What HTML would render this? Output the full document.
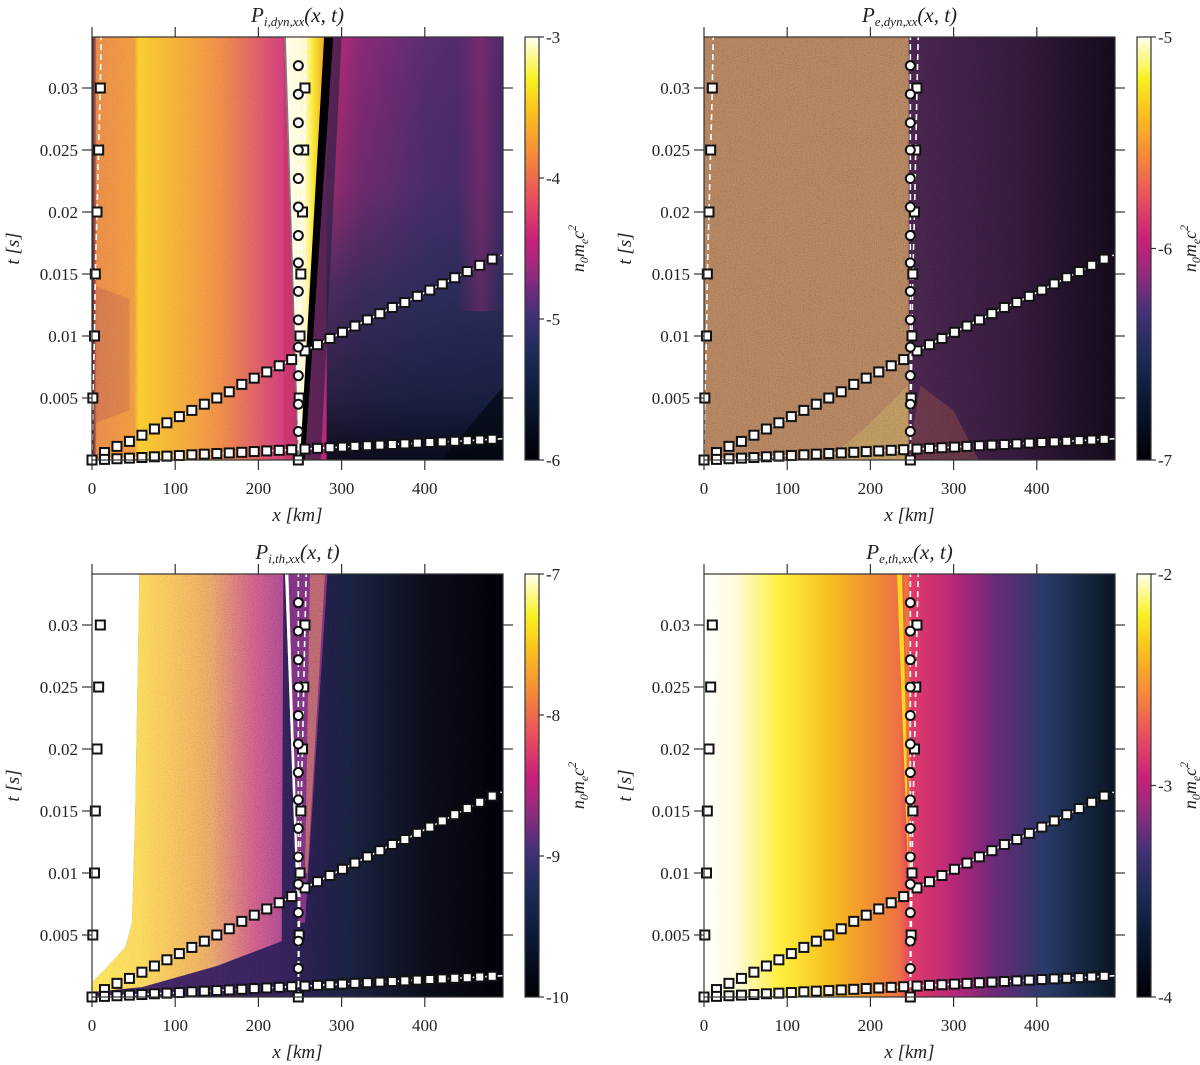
<!DOCTYPE html>
<html><head><meta charset="utf-8">
<style>
html,body{margin:0;padding:0;background:#fff;}
svg{display:block;font-family:"Liberation Serif",serif;}
</style></head>
<body>
<svg id="fig" width="1200" height="1065" viewBox="0 0 1200 1065" xmlns="http://www.w3.org/2000/svg">
<defs>
<filter id="noise" x="0" y="0" width="100%" height="100%">
<feTurbulence type="fractalNoise" baseFrequency="0.85" numOctaves="1" seed="3"/>
<feColorMatrix type="matrix" values="0.33 0.33 0.33 0 0  0.33 0.33 0.33 0 0  0.33 0.33 0.33 0 0  0 0 0 0 1"/>
</filter>
<linearGradient id="cmap" x1="0" y1="1" x2="0" y2="0">
<stop offset="0" stop-color="#000004"/><stop offset="0.15" stop-color="#0c1a38"/><stop offset="0.25" stop-color="#1c2c58"/>
<stop offset="0.35" stop-color="#46307a"/><stop offset="0.45" stop-color="#9a2a7e"/><stop offset="0.52" stop-color="#c8207a"/>
<stop offset="0.62" stop-color="#e8505e"/><stop offset="0.72" stop-color="#f58a38"/><stop offset="0.82" stop-color="#fbc020"/>
<stop offset="0.9" stop-color="#f8f020"/><stop offset="1" stop-color="#fffff0"/>
</linearGradient>
</defs>
</svg>
<script>
// ---- data (km, s) ----
const xTicks=[0,100,200,300,400];
const tTicks=[0.005,0.01,0.015,0.02,0.025,0.03];
const tTickLabels=['0.005','0.01','0.015','0.02','0.025','0.03'];
const lineAx1=[0,15,30,45,60,75,90,105,120,135,150,165,180,195,210,225,240];
const lineAt1=[0,0.0006,0.0011,0.0015,0.0020,0.0025,0.0030,0.0035,0.0040,0.0045,0.0050,0.0055,0.0061,0.0066,0.0071,0.0076,0.0081];
const lineAx2=[256,271,286,301,316,331,346,361,376,391,406,421,436,451,466,481];
const lineAt2=[0.0088,0.0093,0.0098,0.0103,0.0108,0.0113,0.0118,0.0123,0.0127,0.0132,0.0137,0.0142,0.0147,0.0152,0.0157,0.0162];
const lineBx=[0,15,30,45,60,75,90,105,120,135,150,165,180,195,210,225,240,256,271,286,301,316,331,346,361,376,391,406,421,436,451,466,481];
const lineBt=[0,0.00005,0.0001,0.00015,0.0002,0.00026,0.00031,0.00036,0.00042,0.00047,0.00052,0.00057,0.00062,0.00068,0.00073,0.00078,0.00083,0.00088,0.00094,0.00099,0.00104,0.00110,0.00115,0.00120,0.00125,0.00130,0.00136,0.00141,0.00146,0.00151,0.00156,0.00161,0.00167];
const leftSqX=[0,1,3,4,6,8,10];
const leftSqT=[0,0.005,0.01,0.015,0.02,0.025,0.03];
const rightSqX=[248,249,250,251,253,254.5,256];
const rightSqT=[0,0.005,0.01,0.015,0.02,0.025,0.03];
const circX=[248,248,248,248,248,248,248,248,248,248,248,248,248,248];
const circT=[0.0023,0.0045,0.0068,0.0091,0.0113,0.0136,0.0159,0.0181,0.0204,0.0227,0.0250,0.0272,0.0295,0.0318];
const titles=['P<tspan font-size="13" dy="4">i,dyn,xx</tspan><tspan dy="-4">(x, t)</tspan>','P<tspan font-size="13" dy="4">e,dyn,xx</tspan><tspan dy="-4">(x, t)</tspan>','P<tspan font-size="13" dy="4">i,th,xx</tspan><tspan dy="-4">(x, t)</tspan>','P<tspan font-size="13" dy="4">e,th,xx</tspan><tspan dy="-4">(x, t)</tspan>'];
const cbLabels=[['-3','-4','-5','-6'],['-5','-6','-7'],['-7','-8','-9','-10'],['-2','-3','-4']];

const NS='http://www.w3.org/2000/svg';
const svg=document.getElementById('fig');
const defs=svg.querySelector('defs');
function mk(tag,attrs,parent){const e=document.createElementNS(NS,tag);for(const k in attrs)e.setAttribute(k,attrs[k]);(parent||svg).appendChild(e);return e;}
let gid=0;
function grad(stops,vertical){const id='g'+(gid++);const g=mk('linearGradient',vertical?{id:id,x1:0,y1:0,x2:0,y2:1}:{id:id,x1:0,y1:0,x2:1,y2:0},defs);
 stops.forEach(s=>mk('stop',{offset:s[0],'stop-color':s[1],'stop-opacity':s[2]===undefined?1:s[2]},g));return 'url(#'+id+')';}

const panels=[{px:92,py:37},{px:704,py:37},{px:92,py:574},{px:704,py:574}];
const W=411,H=423,KX=0.832,KT=12400;

panels.forEach((P,i)=>{
 const X=km=>P.px+km*KX, Y=t=>P.py+H-t*KT;
 const TT=(H/KT);
 const g=mk('g',{});
 
 
 const cid='clip'+i; const cp=mk('clipPath',{id:cid},defs); mk('rect',{x:P.px,y:P.py,width:W,height:H},cp);
 const hm=mk('g',{'clip-path':'url(#'+cid+')'},g);
 
 
 const R=(x0,x1,t0,t1,fill,extra)=>{const a={x:X(x0),y:Y(t1),width:X(x1)-X(x0),height:Y(t0)-Y(t1),fill:fill};Object.assign(a,extra||{});return mk('rect',a,hm);};
 const poly=(pts,fill,extra)=>{const a={points:pts.map(p=>X(p[0])+','+Y(p[1])).join(' '),fill:fill};Object.assign(a,extra||{});return mk('polygon',a,hm);};
 const noise=(x0,x1,t0,t1,op)=>R(x0,x1,t0,t1,'#888',{filter:'url(#noise)',opacity:op,'style':'mix-blend-mode:overlay'});
 if(i===0){
  R(280,500,0,TT,grad([[0,'#c82a78'],[0.2,'#8a2a78'],[0.55,'#5a2e72'],[1,'#4a2a68']]));
  R(280,500,0,TT,grad([[0,'#0a1530',0],[0.35,'#1a2c52',0.25],[0.6,'#1a2c52',0.7],[0.85,'#0f1e3a',0.85],[1,'#050a18',0.95]],true));
  poly([[420,0],[495,0],[495,0.006]],'#02050c',{opacity:0.6});
  R(440,495,0.012,TT,grad([[0,'#c02878',0],[0.5,'#c02878',0.35],[1,'#a02878',0]]));
  R(0,282,0,TT,grad([[0,'#301a40'],[0.02,'#e67a40'],[0.18,'#ec8a38'],[0.2,'#f8c828'],[0.27,'#f6b52c'],[0.55,'#ec7a40'],[0.8,'#cc3a6a'],[1,'#b8287a']]));
  poly([[5,0.003],[45,0.004],[45,0.013],[5,0.014]],'#7a2a5a',{opacity:0.2});
  poly([[247,0.0005],[231,TT],[280,TT],[251,0.0005]],grad([[0,'#fffff0'],[0.5,'#fffad0'],[0.72,'#f8e830'],[1,'#f0a030']]));
  poly([[247,0],[231,TT],[233,TT],[248.5,0.0005]],'#302040',{opacity:0.6});
  poly([[250,0],[279,TT],[290,TT],[256,0]],'#000004');
  poly([[256,0],[290,TT],[300,TT],[275,0]],'#1a2040',{opacity:0.6});
  noise(5,230,0,TT,0.35);
 } else if(i===1){
  R(245,500,0,TT,grad([[0,'#3a1e3e'],[0.5,'#2a1530'],[1,'#0e0814']]));
  R(0,246,0,TT,'#96684c');
  poly([[150,0],[245,0],[245,0.006],[200,0.003]],'#b89050',{opacity:0.4});
  poly([[245,0],[330,0],[300,0.004],[260,0.006]],'#8a4a3a',{opacity:0.35});
  noise(0,500,0,TT,0.6);
 } else if(i===2){
  R(0,500,0,TT,grad([[0,'#3a2050'],[0.45,'#2a1a48'],[0.56,'#1a1838'],[0.62,'#141a32'],[0.8,'#080a14'],[1,'#000004']]));
  poly([[0,0.0012],[15,0.0022],[40,0.004],[48,0.006],[52,0.015],[57,TT],[0,TT]],'#ffffff');
  poly([[57,TT],[52,0.015],[48,0.006],[40,0.004],[15,0.0022],[0,0.0012],[0,0.0004],[60,0.0008],[150,0.0025],[228,0.0045],[230,TT]],grad([[0,'#fbd848'],[0.25,'#f8c848'],[0.55,'#e8904a'],[0.85,'#b84a6a'],[1,'#8a3a70']]));
  poly([[248,0.006],[236,TT],[283,TT],[256,0.006]],'#6a2a6a',{opacity:0.9});
  poly([[256,0.01],[262,TT],[280,TT],[259,0.01]],'#d87848',{opacity:0.5});
  poly([[246,0.008],[232,TT],[236,TT],[248,0.009]],'#fffff0');
  noise(0,500,0,TT,0.7);
 } else {
  R(0,500,0,TT,grad([[0,'#ffffff'],[0.08,'#fffad8'],[0.18,'#fff040'],[0.3,'#f8c020'],[0.4,'#f09030'],[0.47,'#ee7044'],[0.5,'#e03a6a'],[0.6,'#b82878'],[0.7,'#6a2a78'],[0.82,'#283a68'],[0.92,'#15253f'],[1,'#08121e']]));
  poly([[246,0.009],[232,TT],[238,TT],[248,0.009]],'#f8d820');
  poly([[246,0.009],[240,TT],[246,TT],[249,0.008]],'#f07040');
 }
 // marker lines
 const lines=mk('g',{},g);
 
 
 const path=(xs,ts,dash)=>mk('polyline',{points:xs.map((x,k)=>X(x)+','+Y(ts[k])).join(' '),fill:'none',stroke:'#fff','stroke-width':1.6,'stroke-dasharray':dash},lines);
 path(leftSqX.concat([11]),leftSqT.concat([TT]),'6,4');
 path([248,248],[0,TT],'6,4');
 path(rightSqX.concat([257.5]),rightSqT.concat([TT]),'6,4');
 path(lineAx1.concat([245]),lineAt1.concat([0.0082]),'6,3,1.5,3');
 path([248,256].concat(lineAx2.slice(1)).concat([495]),[0.0085,0.0088].concat(lineAt2.slice(1)).concat([0.0166]),'6,3,1.5,3');
 path(lineBx.concat([495]),lineBt.concat([0.00172]),'6,3,1.5,3');
 const sq=(x,t,nm)=>{const r=mk('rect',{x:X(x)-4.5,y:Y(t)-4.5,width:9,height:9,fill:'#fff',stroke:'#111','stroke-width':2},lines);};
 const ci=(x,t)=>{const c=mk('circle',{cx:X(x),cy:Y(t),r:4.5,fill:'#fff',stroke:'#111','stroke-width':2},lines);};
 lineAx1.forEach((x,k)=>sq(x,lineAt1[k],'square-line-a'));
 lineAx2.forEach((x,k)=>sq(x,lineAt2[k],'square-line-a'));
 lineBx.forEach((x,k)=>sq(x,lineBt[k],'square-line-b'));
 leftSqX.forEach((x,k)=>sq(x,leftSqT[k],'square-left'));
 rightSqX.forEach((x,k)=>sq(x,rightSqT[k],'square-center'));
 circX.forEach((x,k)=>ci(x,circT[k]));
 // frame & ticks
 mk('rect',{x:P.px,y:P.py,width:W,height:H,fill:'none',stroke:'#333','stroke-width':1.2},g);
 const ax=mk('g',{},g);
 
 
 xTicks.forEach(v=>{const x=X(v);
  mk('line',{x1:x,x2:x,y1:P.py+H,y2:P.py+H+10,stroke:'#333','stroke-width':1.2},ax);
  mk('line',{x1:x,x2:x,y1:P.py,y2:P.py-10,stroke:'#333','stroke-width':1.2},ax);
  const t=mk('text',{x:x,y:P.py+H+34,'text-anchor':'middle','font-size':17,fill:'#222'},ax);t.textContent=v;});
 const xl=mk('text',{x:P.px+W/2,y:P.py+H+61,'text-anchor':'middle','font-size':19,'font-style':'italic',fill:'#222'},ax);xl.textContent='x [km]';
 
 
 const ay=mk('g',{},g);
 
 
 tTicks.forEach((v,k)=>{const y=Y(v);
  mk('line',{x1:P.px-10,x2:P.px,y1:y,y2:y,stroke:'#333','stroke-width':1.2},ay);
  mk('line',{x1:P.px+W,x2:P.px+W+10,y1:y,y2:y,stroke:'#333','stroke-width':1.2},ay);
  const t=mk('text',{x:P.px-14,y:y+6,'text-anchor':'end','font-size':17,fill:'#222'},ay);t.textContent=tTickLabels[k];});
 const yl=mk('text',{x:0,y:0,'text-anchor':'middle','font-size':19,'font-style':'italic',fill:'#222',transform:'translate('+(P.px-73)+','+(P.py+H/2)+') rotate(-90)'},ay);yl.textContent='t [s]';
 
 
 const ti=mk('text',{x:P.px+W/2,y:P.py-15,'text-anchor':'middle','font-size':21,'font-style':'italic',fill:'#222'},g);ti.innerHTML=titles[i];
 
 
 // colorbar
 const cb=mk('g',{},g);
 
 
 const cx=P.px+W+22;
 mk('rect',{x:cx,y:P.py,width:14,height:H,fill:'url(#cmap)',stroke:'#333','stroke-width':1.2},cb);
 const labs=cbLabels[i];
 labs.forEach((l,k)=>{const y=P.py+H*k/(labs.length-1);
  mk('line',{x1:cx+14,x2:cx+19,y1:y,y2:y,stroke:'#333','stroke-width':1.2},cb);
  const t=mk('text',{x:cx+21,y:y+6,'font-size':17,fill:'#222'},cb);t.textContent=l;});
 const cl=mk('text',{x:0,y:0,'text-anchor':'middle','font-size':18,'font-style':'italic',fill:'#222',transform:'translate('+(cx+59)+','+(P.py+H/2)+') rotate(-90)'},cb);
 cl.innerHTML='n<tspan font-size="12" dy="4">0</tspan><tspan dy="-4">m</tspan><tspan font-size="12" dy="4">e</tspan><tspan dy="-4">c</tspan><tspan font-size="12" dy="-8">2</tspan>';
 
 
});
</script>
</body></html>
